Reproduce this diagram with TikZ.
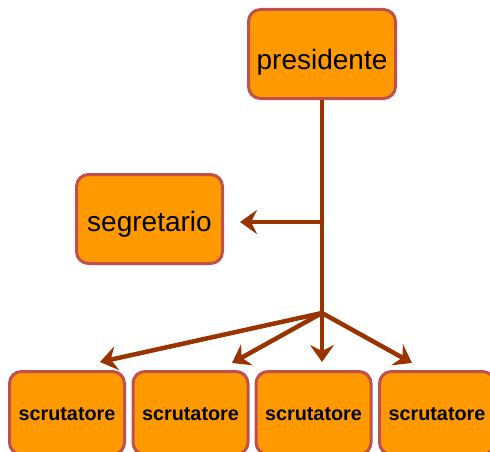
\documentclass[tikz,border=0pt]{standalone}
\usepackage{fontspec}
\setmainfont{Liberation Sans}
\usetikzlibrary{arrows.meta}
\definecolor{boxfill}{HTML}{FF9900}
\definecolor{boxline}{HTML}{C0504D}
\definecolor{conn}{HTML}{993300}
\begin{document}
\begin{tikzpicture}[x=1pt,y=-1pt,
  box/.style={draw=boxline, fill=boxfill, line width=3pt, rounded corners=12pt, inner sep=0pt, text=black},
  bigbox/.style={box, minimum width=147pt, minimum height=89pt, font=\fontsize{28}{31}\selectfont},
  smallbox/.style={box, minimum width=115pt, minimum height=83pt, font=\fontsize{19.8}{23}\selectfont\bfseries, text height=14pt, text depth=0pt},
  conn/.style={draw=conn, line width=4.5pt},
  arr/.style={conn, -{Stealth[length=17pt, width=24pt, inset=6pt]}}
]
\useasboundingbox (0,0) rectangle (490,452);
\clip (0,0) rectangle (490,452);
\node[bigbox, text height=31pt, text depth=0pt] (pres) at (322,54) {presidente};
\node[bigbox, minimum width=146pt, text height=25pt, text depth=0pt] (segr) at (149.5,219) {segretario};
\node[smallbox] (s1) at (67,413) {scrutatore};
\node[smallbox] (s2) at (190.5,413) {scrutatore};
\node[smallbox] (s3) at (313.5,413) {scrutatore};
\node[smallbox] (s4) at (437,413) {scrutatore};
\coordinate (mid) at (322,222);
\coordinate (branch) at (322,313);
\coordinate (t1) at (100,362);
\coordinate (t2) at (232,363);
\coordinate (t3) at (322,362);
\coordinate (t4) at (412,363);
\coordinate (ts) at (240,222);
\draw[conn] (pres.south) -- (branch);
\draw[arr] (mid) -- (ts);
\draw[arr] (branch) -- (t1);
\draw[arr] (branch) -- (t2);
\draw[arr] (branch) -- (t3);
\draw[arr] (branch) -- (t4);
\end{tikzpicture}
\end{document}
